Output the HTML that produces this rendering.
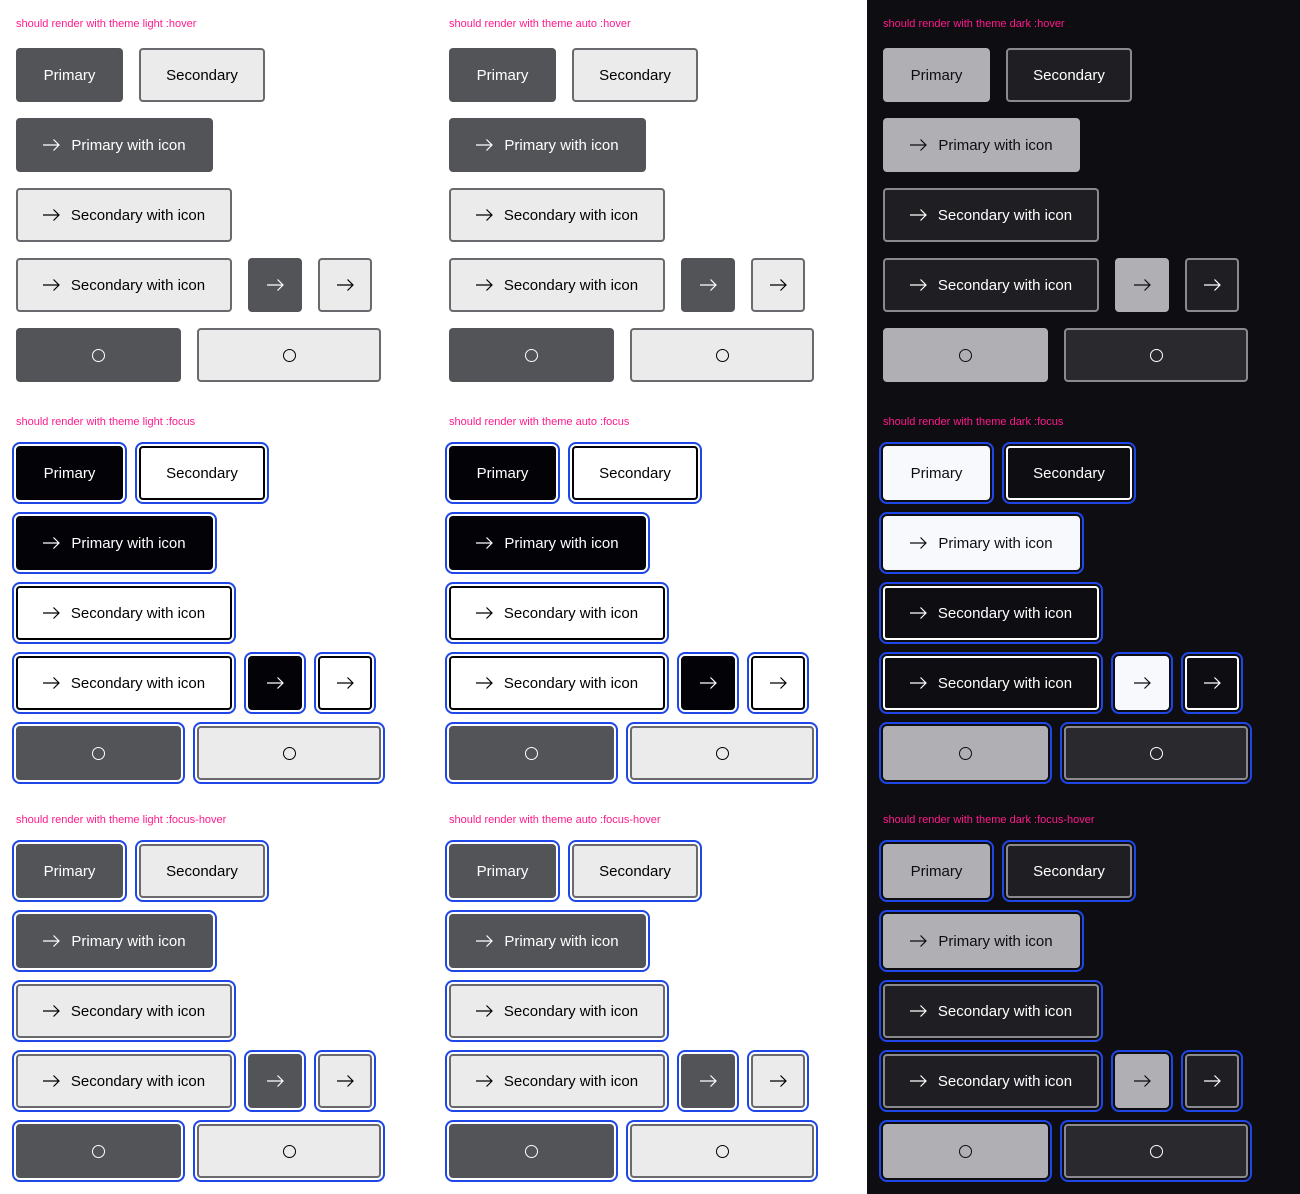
<!DOCTYPE html>
<html><head><meta charset="utf-8"><style>
*{margin:0;padding:0;box-sizing:border-box}
body{width:1300px;height:1194px;position:relative;background:#fff;overflow:hidden;font-family:"Liberation Sans",sans-serif}
.darkbg{position:absolute;left:867px;top:0;width:433px;height:1194px;background:#0e0d12}
.sec{position:absolute;width:417px;height:398px}
.lbl{position:absolute;left:0;top:17px;font-size:11px;color:#ff1a8c;white-space:nowrap;line-height:14px}
.b{position:absolute;height:54px;border-radius:4px;display:flex;align-items:center;justify-content:center;font-size:15px;white-space:nowrap;border:2px solid transparent}
.b svg{margin-right:11px}
.p1{left:0;top:48px;width:107px}.s1{left:123px;top:48px;width:126px}
.pi{left:0;top:118px;width:197px}.si{left:0;top:188px;width:216px}
.si2{left:0;top:258px;width:216px}.ip{left:232px;top:258px;width:54px}.is{left:302px;top:258px;width:54px}
.ip svg,.is svg{margin:0}
.lp{left:0;top:328px;width:165px}.ls{left:181px;top:328px;width:184px}
.sp{width:13px;height:13px;border-radius:50%;border:1.3px solid currentColor}
.light .P{background:#535458;border-color:#535458;color:#fff}
.light .S{background:#ebebeb;border-color:#6a6a6e;color:#000}
.light.focus .P{background:#020207;border-color:#020207}
.light.focus .S{background:#fff;border-color:#000}
.light .lp{background:#535458!important;border-color:#535458!important}
.light .ls{background:#ebebeb!important;border-color:#6a6a6e!important}
.dark .P{background:#b0b0b4;border-color:#b0b0b4;color:#0e0d12}
.dark .S{background:#1f1f23;border-color:#8a8a8e;color:#fff}
.dark.focus .P{background:#f8f9fd;border-color:#f8f9fd}
.dark.focus .S{background:#0e0d12;border-color:#fff}
.dark .lp{background:#b0b0b4!important;border-color:#b0b0b4!important}
.dark .ls{background:#2a2a2e!important;border-color:#8a8a8e!important}
.ring .b{outline:2px solid #1f46e6;outline-offset:2px}
</style></head><body>
<div class="darkbg"></div>
<svg width="0" height="0" style="position:absolute"><defs><symbol id="ar" viewBox="0 0 17 12"><path d="M0 6H16M10.5 0.5L16 6L10.5 11.5" fill="none" stroke="currentColor" stroke-width="1.2"/></symbol></defs></svg>

<div class="sec light" style="left:16px;top:0px">
<div class="lbl">should render with theme light :hover</div>
<div class="b P p1">Primary</div><div class="b S s1">Secondary</div>
<div class="b P pi"><svg width="17" height="12"><use href="#ar"/></svg>Primary with icon</div>
<div class="b S si"><svg width="17" height="12"><use href="#ar"/></svg>Secondary with icon</div>
<div class="b S si2"><svg width="17" height="12"><use href="#ar"/></svg>Secondary with icon</div>
<div class="b P ip"><svg width="17" height="12"><use href="#ar"/></svg></div><div class="b S is"><svg width="17" height="12"><use href="#ar"/></svg></div>
<div class="b P lp"><div class="sp"></div></div><div class="b S ls"><div class="sp"></div></div>
</div>
<div class="sec light focus ring" style="left:16px;top:398px">
<div class="lbl">should render with theme light :focus</div>
<div class="b P p1">Primary</div><div class="b S s1">Secondary</div>
<div class="b P pi"><svg width="17" height="12"><use href="#ar"/></svg>Primary with icon</div>
<div class="b S si"><svg width="17" height="12"><use href="#ar"/></svg>Secondary with icon</div>
<div class="b S si2"><svg width="17" height="12"><use href="#ar"/></svg>Secondary with icon</div>
<div class="b P ip"><svg width="17" height="12"><use href="#ar"/></svg></div><div class="b S is"><svg width="17" height="12"><use href="#ar"/></svg></div>
<div class="b P lp"><div class="sp"></div></div><div class="b S ls"><div class="sp"></div></div>
</div>
<div class="sec light ring" style="left:16px;top:796px">
<div class="lbl">should render with theme light :focus-hover</div>
<div class="b P p1">Primary</div><div class="b S s1">Secondary</div>
<div class="b P pi"><svg width="17" height="12"><use href="#ar"/></svg>Primary with icon</div>
<div class="b S si"><svg width="17" height="12"><use href="#ar"/></svg>Secondary with icon</div>
<div class="b S si2"><svg width="17" height="12"><use href="#ar"/></svg>Secondary with icon</div>
<div class="b P ip"><svg width="17" height="12"><use href="#ar"/></svg></div><div class="b S is"><svg width="17" height="12"><use href="#ar"/></svg></div>
<div class="b P lp"><div class="sp"></div></div><div class="b S ls"><div class="sp"></div></div>
</div>

<div class="sec light" style="left:449px;top:0px">
<div class="lbl">should render with theme auto :hover</div>
<div class="b P p1">Primary</div><div class="b S s1">Secondary</div>
<div class="b P pi"><svg width="17" height="12"><use href="#ar"/></svg>Primary with icon</div>
<div class="b S si"><svg width="17" height="12"><use href="#ar"/></svg>Secondary with icon</div>
<div class="b S si2"><svg width="17" height="12"><use href="#ar"/></svg>Secondary with icon</div>
<div class="b P ip"><svg width="17" height="12"><use href="#ar"/></svg></div><div class="b S is"><svg width="17" height="12"><use href="#ar"/></svg></div>
<div class="b P lp"><div class="sp"></div></div><div class="b S ls"><div class="sp"></div></div>
</div>
<div class="sec light focus ring" style="left:449px;top:398px">
<div class="lbl">should render with theme auto :focus</div>
<div class="b P p1">Primary</div><div class="b S s1">Secondary</div>
<div class="b P pi"><svg width="17" height="12"><use href="#ar"/></svg>Primary with icon</div>
<div class="b S si"><svg width="17" height="12"><use href="#ar"/></svg>Secondary with icon</div>
<div class="b S si2"><svg width="17" height="12"><use href="#ar"/></svg>Secondary with icon</div>
<div class="b P ip"><svg width="17" height="12"><use href="#ar"/></svg></div><div class="b S is"><svg width="17" height="12"><use href="#ar"/></svg></div>
<div class="b P lp"><div class="sp"></div></div><div class="b S ls"><div class="sp"></div></div>
</div>
<div class="sec light ring" style="left:449px;top:796px">
<div class="lbl">should render with theme auto :focus-hover</div>
<div class="b P p1">Primary</div><div class="b S s1">Secondary</div>
<div class="b P pi"><svg width="17" height="12"><use href="#ar"/></svg>Primary with icon</div>
<div class="b S si"><svg width="17" height="12"><use href="#ar"/></svg>Secondary with icon</div>
<div class="b S si2"><svg width="17" height="12"><use href="#ar"/></svg>Secondary with icon</div>
<div class="b P ip"><svg width="17" height="12"><use href="#ar"/></svg></div><div class="b S is"><svg width="17" height="12"><use href="#ar"/></svg></div>
<div class="b P lp"><div class="sp"></div></div><div class="b S ls"><div class="sp"></div></div>
</div>

<div class="sec dark" style="left:883px;top:0px">
<div class="lbl">should render with theme dark :hover</div>
<div class="b P p1">Primary</div><div class="b S s1">Secondary</div>
<div class="b P pi"><svg width="17" height="12"><use href="#ar"/></svg>Primary with icon</div>
<div class="b S si"><svg width="17" height="12"><use href="#ar"/></svg>Secondary with icon</div>
<div class="b S si2"><svg width="17" height="12"><use href="#ar"/></svg>Secondary with icon</div>
<div class="b P ip"><svg width="17" height="12"><use href="#ar"/></svg></div><div class="b S is"><svg width="17" height="12"><use href="#ar"/></svg></div>
<div class="b P lp"><div class="sp"></div></div><div class="b S ls"><div class="sp"></div></div>
</div>
<div class="sec dark focus ring" style="left:883px;top:398px">
<div class="lbl">should render with theme dark :focus</div>
<div class="b P p1">Primary</div><div class="b S s1">Secondary</div>
<div class="b P pi"><svg width="17" height="12"><use href="#ar"/></svg>Primary with icon</div>
<div class="b S si"><svg width="17" height="12"><use href="#ar"/></svg>Secondary with icon</div>
<div class="b S si2"><svg width="17" height="12"><use href="#ar"/></svg>Secondary with icon</div>
<div class="b P ip"><svg width="17" height="12"><use href="#ar"/></svg></div><div class="b S is"><svg width="17" height="12"><use href="#ar"/></svg></div>
<div class="b P lp"><div class="sp"></div></div><div class="b S ls"><div class="sp"></div></div>
</div>
<div class="sec dark ring" style="left:883px;top:796px">
<div class="lbl">should render with theme dark :focus-hover</div>
<div class="b P p1">Primary</div><div class="b S s1">Secondary</div>
<div class="b P pi"><svg width="17" height="12"><use href="#ar"/></svg>Primary with icon</div>
<div class="b S si"><svg width="17" height="12"><use href="#ar"/></svg>Secondary with icon</div>
<div class="b S si2"><svg width="17" height="12"><use href="#ar"/></svg>Secondary with icon</div>
<div class="b P ip"><svg width="17" height="12"><use href="#ar"/></svg></div><div class="b S is"><svg width="17" height="12"><use href="#ar"/></svg></div>
<div class="b P lp"><div class="sp"></div></div><div class="b S ls"><div class="sp"></div></div>
</div>
</body></html>
